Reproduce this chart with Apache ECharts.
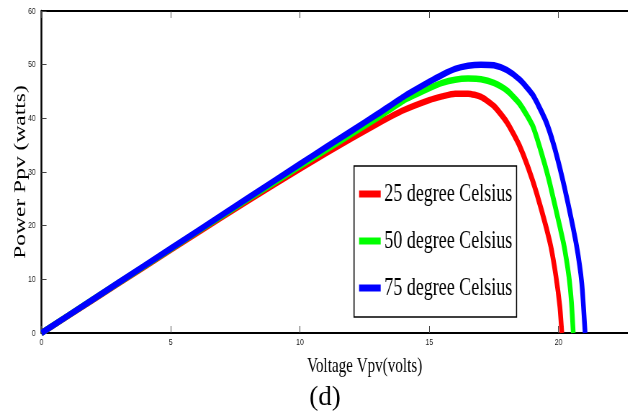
<!DOCTYPE html>
<html>
<head>
<meta charset="utf-8">
<script src="https://cdn.jsdelivr.net/npm/echarts@6/dist/echarts.min.js"></script>
<style>
  html, body { margin: 0; padding: 0; background: #fff; overflow: hidden; width: 628px; height: 412px; }
  /* the figure is laid out wide and squeezed horizontally, like the exported MATLAB figure */
  #chart { width: 873px; height: 412px; transform: scaleX(0.72); transform-origin: 0 0; }
</style>
</head>
<body>
<div id="chart"></div>
<script>
// P-V characteristics of the PV module at three cell temperatures
const seriesNames = ['25 degree Celsius', '50 degree Celsius', '75 degree Celsius'];
const seriesColors = ['#ff0000', '#00ff00', '#0000ff'];

const volts25 = [0, 2, 4, 6, 8, 10, 11, 12, 13, 14, 15, 15.5, 16, 16.5, 17, 17.5, 18, 18.5, 19, 19.4, 19.7, 19.9, 20.05, 20.13];
const power25 = [0, 6.2, 12.4, 18.6, 24.7, 30.6, 33.5, 36.3, 39.0, 41.5, 43.4, 44.1, 44.6, 44.6, 44.0, 42.3, 39.3, 34.8, 28.4, 21.9, 16.2, 10.6, 5.0, 0];

const volts50 = [0, 2, 4, 6, 8, 10, 11, 12, 13, 14, 15, 15.5, 16, 16.5, 17, 17.5, 18, 18.5, 19, 19.3, 19.6, 19.9, 20.2, 20.4, 20.5, 20.57];
const power50 = [0, 6.3, 12.5, 18.8, 25.0, 31.1, 34.1, 37.1, 40.1, 43.3, 45.6, 46.6, 47.2, 47.4, 47.3, 46.6, 45.2, 42.7, 38.6, 34.2, 29.1, 23.0, 16.6, 10.6, 5.8, 0];

const volts75 = [0, 2, 4, 6, 8, 10, 11, 12, 13, 14, 15, 15.5, 16, 16.5, 17, 17.5, 18, 18.5, 19, 19.5, 19.8, 20.1, 20.4, 20.7, 20.9, 21.03];
const power75 = [0, 6.3, 12.6, 18.9, 25.2, 31.5, 34.6, 37.7, 40.8, 44.0, 46.8, 48.1, 49.2, 49.8, 50.0, 49.9, 49.0, 47.2, 44.4, 39.6, 35.3, 29.8, 23.4, 16.2, 9.3, 0];

const xTicks = { min: 0, max: 25, interval: 5 };
const yTicks = { min: 0, max: 60, interval: 10 };

const curves = [[volts25, power25], [volts50, power50], [volts75, power75]];
const pairs = (v, p) => v.map((x, i) => [x, p[i]]);

const tickFont = { fontFamily: 'Liberation Sans, Arial, sans-serif', fontSize: 9.5, color: '#222' };
const serif = 'Liberation Serif, Times New Roman, serif';

const chart = echarts.init(document.getElementById('chart'));
chart.setOption({
  backgroundColor: '#ffffff',
  animation: false,
  grid: { left: 57.6, top: 11, width: 897.6, height: 322, outerBoundsMode: 'none', containLabel: false },
  legend: {
    orient: 'vertical',
    left: 491.7,
    top: 166,
    padding: [15, 6, 16, 7],
    itemGap: 21,
    itemWidth: 30,
    itemHeight: 7,
    icon: 'rect',
    borderColor: '#000',
    borderWidth: 1.5,
    backgroundColor: '#fff',
    textStyle: { fontFamily: serif, fontSize: 25, lineHeight: 26, color: '#000' },
    data: seriesNames
  },
  xAxis: [
    {
      type: 'value', position: 'bottom',
      min: xTicks.min, max: xTicks.max, interval: xTicks.interval,
      name: 'Voltage Vpv(volts)', nameLocation: 'middle', nameGap: 23, nameMoveOverlap: false,
      nameTextStyle: { fontFamily: serif, fontSize: 21, color: '#000' },
      axisLine: { show: true, onZero: false, lineStyle: { color: '#000', width: 2 } },
      axisTick: { show: true, inside: true, length: 7, lineStyle: { color: '#444', width: 1 } },
      axisLabel: Object.assign({ margin: 4 }, tickFont),
      splitLine: { show: false }
    },
    {
      type: 'value', position: 'top',
      min: xTicks.min, max: xTicks.max, interval: xTicks.interval,
      axisLine: { show: true, onZero: false, lineStyle: { color: '#000', width: 2 } },
      axisTick: { show: true, inside: true, length: 7, lineStyle: { color: '#444', width: 1 } },
      axisLabel: { show: false },
      splitLine: { show: false }
    }
  ],
  yAxis: {
    type: 'value',
    min: yTicks.min, max: yTicks.max, interval: yTicks.interval,
    name: 'Power Ppv (watts)', nameLocation: 'middle', nameGap: 17, nameMoveOverlap: false,
    nameTextStyle: { fontFamily: serif, fontSize: 23.5, color: '#000' },
    axisLine: { show: true, onZero: false, lineStyle: { color: '#000', width: 2.5 } },
    axisTick: { show: true, inside: true, length: 7, lineStyle: { color: '#444', width: 1 } },
    axisLabel: Object.assign({ margin: 8 }, tickFont),
    splitLine: { show: false }
  },
  graphic: [
    {
      type: 'text',
      x: 451.4, y: 397.5,
      scaleX: 1 / 0.72,
      style: {
        text: '(d)', font: '27px ' + serif, fill: '#000',
        textAlign: 'center', textVerticalAlign: 'middle'
      }
    }
  ],
  series: curves.map((c, i) => ({
    type: 'line',
    name: seriesNames[i],
    data: pairs(c[0], c[1]),
    xAxisIndex: 0,
    smooth: 0.2,
    showSymbol: false,
    symbol: 'none',
    color: seriesColors[i],
    lineStyle: { color: seriesColors[i], width: 6.5, cap: 'butt', join: 'round' },
    z: 2 + i
  }))
});
</script>
</body>
</html>
